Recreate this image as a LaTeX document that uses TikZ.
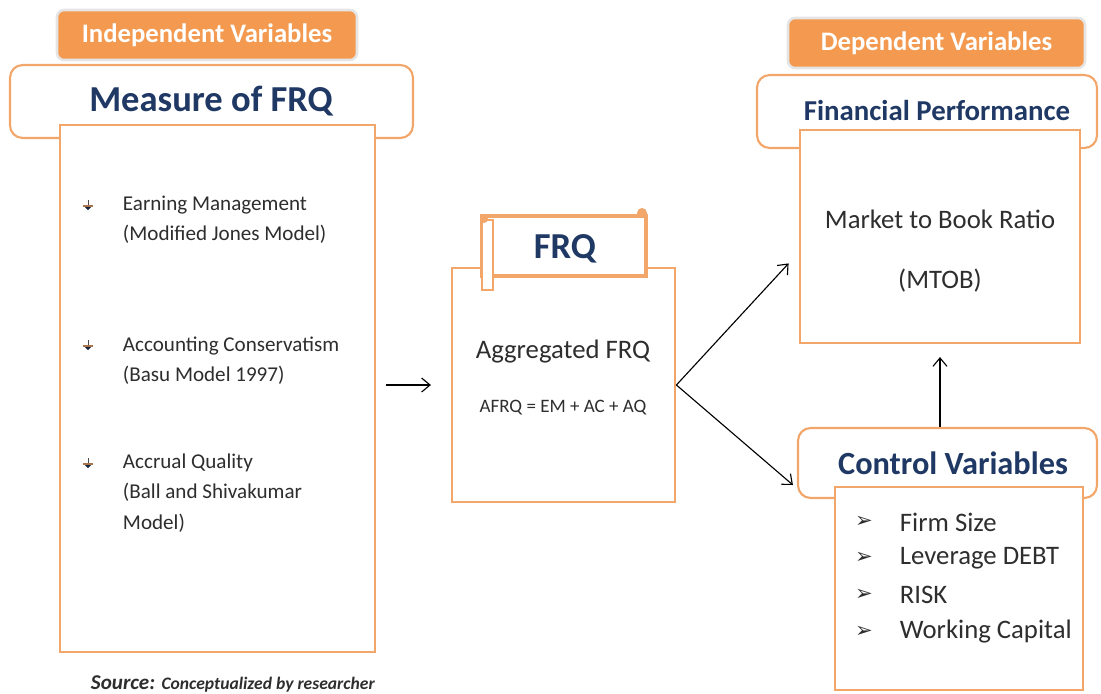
\documentclass[tikz,border=0pt]{standalone}
\usepackage{fontspec}
\setmainfont{Carlito}
\newfontfamily\symfont{DejaVu Sans}
\usetikzlibrary{fit,arrows.meta}
\definecolor{frqorange}{HTML}{F2A66A}
\definecolor{tagorange}{HTML}{F39A50}
\definecolor{frqnavy}{HTML}{1F3864}
\definecolor{frqtext}{HTML}{2E2E2E}

\tikzset{
  headbox/.style={draw=frqorange, line width=1.5pt, rounded corners=9pt, fill=white, inner sep=0pt},
  listbox/.style={draw=frqorange, line width=2pt, fill=white, inner sep=0pt},
  tagbox/.style={fill=tagorange, draw=black!10, line width=1.8pt, rounded corners=5pt, inner sep=0pt},
  tagtext/.style={text=white, font=\bfseries\fontsize{19}{22}\selectfont},
  headtext/.style={text=frqnavy, font=\bfseries\fontsize{20.5}{24}\selectfont},
  bigtext/.style={text=frqnavy, font=\bfseries\fontsize{26}{30}\selectfont},
  body/.style={text=frqtext, anchor=west, align=left, font=\fontsize{15}{21.5}\selectfont},
  midtext/.style={text=frqtext, font=\fontsize{19}{22}\selectfont},
  listtext/.style={text=frqtext, anchor=west, font=\fontsize{19}{22}\selectfont},
  arrowmark/.style={text=frqtext, font=\symfont\fontsize{15}{17}\selectfont},
  link/.style={-{Straight Barb[length=6pt,width=10pt]}, line width=0.8pt},
  pushmark/.pic={
    \draw[black!70, line width=0.6pt] (0,-5) -- (0,1);
    \draw[frqorange!70!black, line width=0.9pt] (-5,1) -- (5,1);
    \fill[frqnavy!60!black] (-3,2) -- (3,2) -- (0,5) -- cycle;
  }
}

\begin{document}
\begin{tikzpicture}[x=0.025cm, y=-0.025cm]
    \useasboundingbox (0,0) rectangle (1101,693);

    \node[headbox, fit={(10,65) (413,138)}] (measurehead) {};
    \node[listbox, fit={(60,125) (375,652)}] (measurebox) {};
    \node[tagbox, fit={(57,10) (357,60)}] (indeptag) {};
    \node[tagtext] (indeptext) at (indeptag.center) {Independent Variables};
    \node[bigtext] (measuretitle) at (211,101) {Measure of FRQ};

    \pic at (88,205) {pushmark};
    \pic at (88,345) {pushmark};
    \pic at (88,463) {pushmark};
    \node[body] (emitem) at (118,220) {Earning Management\\(Modified Jones Model)};
    \node[body] (acitem) at (118,361) {Accounting Conservatism\\(Basu Model 1997)};
    \node[body] (aqitem) at (118,493) {Accrual Quality\\(Ball and Shivakumar\\Model)};

    \node[anchor=west, text=frqtext] (source) at (86,684)
        {\bfseries\itshape\fontsize{15}{17}\selectfont Source: {\fontsize{12.5}{14}\selectfont Conceptualized by researcher}};

    \node[listbox, fit={(452,268) (675,502)}] (frqbox) {};
    \node[listbox, line width=2.5pt, fit={(482,216) (646,276)}] (frqhead) {};
    \draw[frqorange, line width=2pt, fill=white] (482,220) rectangle (493,290);
    \fill[frqorange] (484,219) circle (4);
    \fill[frqorange] (642,213) circle (5);
    \node[bigtext] (frqtitle) at (565,249) {FRQ};
    \node[midtext] (aggfrq) at (563,352) {Aggregated FRQ};
    \node[text=frqtext, font=\fontsize{13.5}{16}\selectfont] (afrq) at (563,408) {AFRQ = EM + AC + AQ};

    \node[headbox, fit={(757,75) (1097,148)}] (perfhead) {};
    \node[listbox, fit={(800,130) (1080,343)}] (mtobbox) {};
    \node[tagbox, fit={(788,18) (1085,68)}] (deptag) {};
    \node[tagtext] (deptext) at (deptag.center) {Dependent Variables};
    \node[headtext] (perftitle) at (937,110) {Financial Performance};
    \node[midtext] (mtobname) at (940,219) {Market to Book Ratio};
    \node[midtext] (mtobshort) at (940,281) {(MTOB)};

    \node[headbox, fit={(798,428) (1097,498)}] (ctrlhead) {};
    \node[listbox, fit={(835,487) (1083,690)}] (ctrlbox) {};
    \node[headtext, font=\bfseries\fontsize{23}{26}\selectfont] (ctrltitle) at (953,463) {Control Variables};
    \node[arrowmark] (firmmark) at (864,522) {➢};
    \node[arrowmark] (debtmark) at (864,558) {➢};
    \node[arrowmark] (riskmark) at (864,595) {➢};
    \node[arrowmark] (wcapmark) at (864,632) {➢};
    \node[listtext] (firmsize) at (895,522) {Firm Size};
    \node[listtext] (leverage) at (895,558) {Leverage DEBT};
    \node[listtext] (risk) at (895,595) {RISK};
    \node[listtext] (wcap) at (895,632) {Working Capital};

    \draw[link, shorten <=7pt, shorten >=14pt] (measurebox.east |- frqbox.west) -- (frqbox.west);
    \draw[link] (frqbox.east) -- ([shift={(-10,-81)}]mtobbox.south west);
    \draw[link] (frqbox.east) -- ([shift={(-4,22)}]ctrlhead.west);
    \draw[link, shorten >=9pt] (mtobbox.south |- ctrlhead.north) -- (mtobbox.south);
\end{tikzpicture}
\end{document}
